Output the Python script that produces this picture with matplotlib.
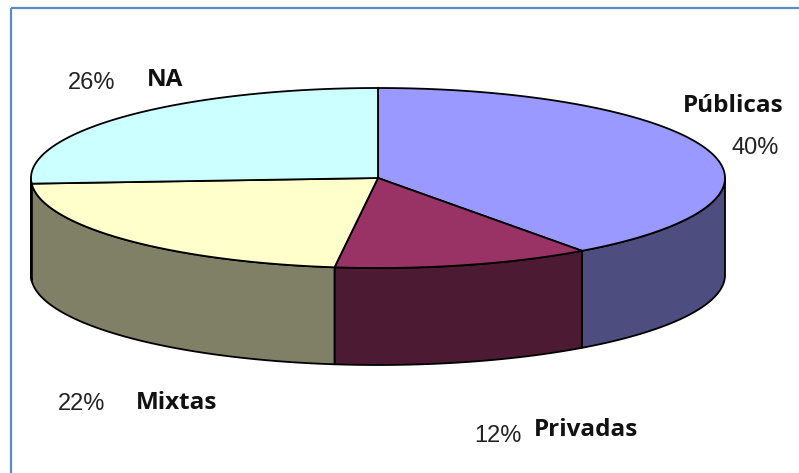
import numpy as np
from matplotlib import pyplot as plt
from matplotlib.patches import Polygon, Rectangle

# data
labels = ["Públicas", "Privadas", "Mixtas", "NA"]
values = [40, 12, 22, 26]
top_colors = ["#9999FF", "#993366", "#FFFFCC", "#CCFFFF"]
side_colors = ["#4D4D80", "#4D1A33", "#808066", "#668080"]

# geometry in pixels
W, H = 799, 473
cx, cy = 378, 178
rx, ry = 347, 90
depth = 97

fig = plt.figure(figsize=(W / 100, H / 100), dpi=100)
ax = fig.add_axes([0, 0, 1, 1])
ax.set_xlim(0, W)
ax.set_ylim(H, 0)
ax.axis("off")

# border
ax.add_patch(Rectangle((11, 8), W, H, fill=False, ec="#5B8BCB", lw=1.6, zorder=0))

fracs = np.array(values) / sum(values)
bounds = 90 - 360 * np.concatenate([[0], np.cumsum(fracs)])


def pt(theta, dy=0):
    t = np.radians(theta)
    return cx + rx * np.cos(t), cy - ry * np.sin(t) + dy


# side walls: only the front half (angles between -180 and 0)
for i in range(len(values)):
    a0, a1 = bounds[i + 1], bounds[i]
    lo, hi = max(a0, -180), min(a1, 0)
    if lo >= hi:
        continue
    th = np.linspace(lo, hi, 100)
    top = [pt(t) for t in th]
    bot = [pt(t, depth) for t in th[::-1]]
    ax.add_patch(Polygon(top + bot, closed=True, fc=side_colors[i], ec="black",
                         lw=1.3, joinstyle="round", zorder=1))

# top faces
for i in range(len(values)):
    th = np.linspace(bounds[i], bounds[i + 1], 200)
    pts = [(cx, cy)] + [pt(t) for t in th]
    ax.add_patch(Polygon(pts, closed=True, fc=top_colors[i], ec="black",
                         lw=1.3, joinstyle="round", zorder=2))

pct_font = dict(family=["Liberation Sans", "DejaVu Sans"], fontsize=17, color="#222222")
name_font = dict(family=["Open Sans", "DejaVu Sans"], fontsize=17.5, fontweight="bold",
                 color="#111111")

# (x, y) label spots, same order as labels
pct_pos = [(755, 148), (498, 436), (82, 404), (92, 83)]
name_pos = [(733, 106), (586, 430), (177, 403), (165, 80)]

for i in range(len(values)):
    ax.text(*pct_pos[i], f"{values[i]}%", ha="center", va="center", **pct_font)
    ax.text(*name_pos[i], labels[i], ha="center", va="center", **name_font)

fig.savefig("out.png", dpi=100)
